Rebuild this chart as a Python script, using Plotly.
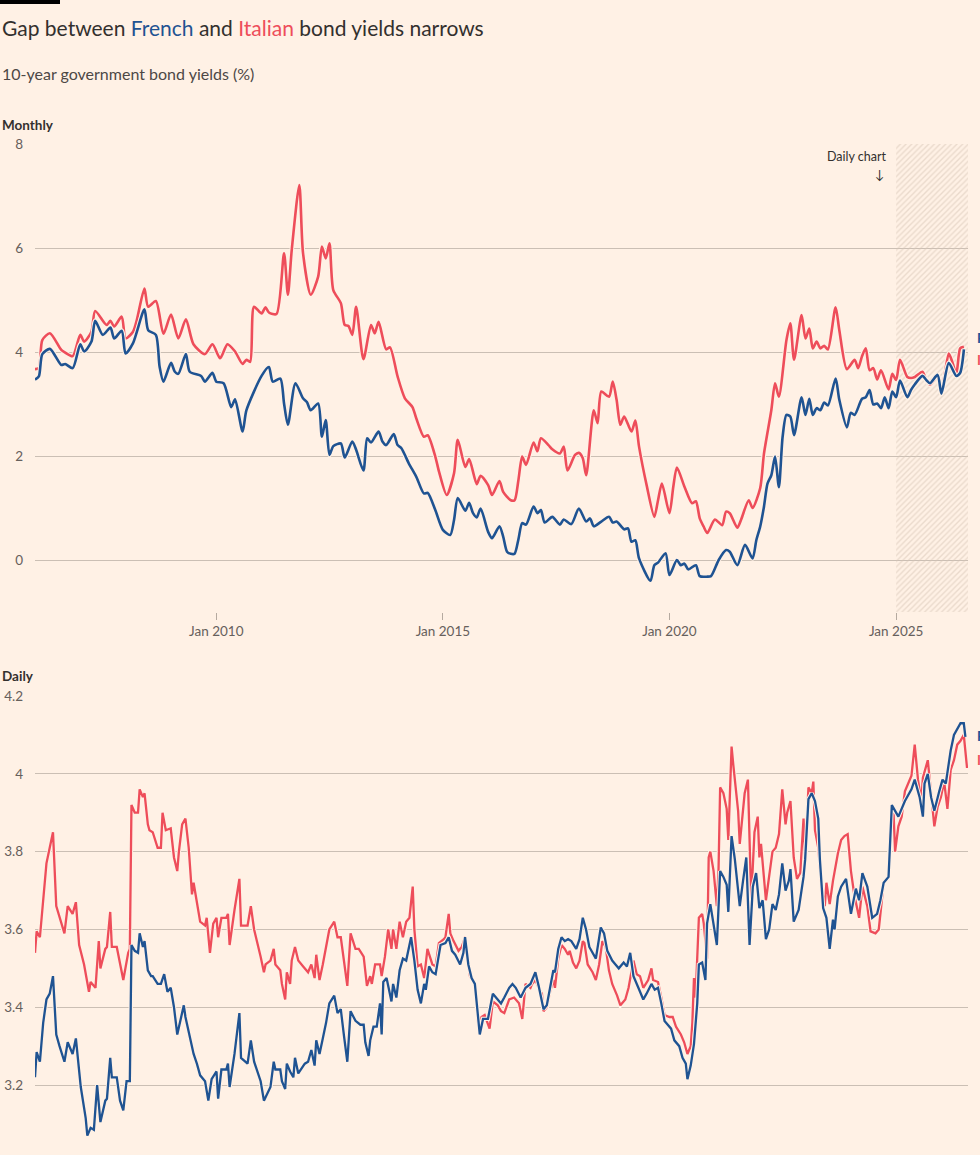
import pandas as pd
import plotly.graph_objects as go

# ---- data ----
# monthly 10-year yields (%)
it_month = [
    "2006-01", "2006-02", "2006-03", "2006-05", "2006-08", "2006-09", "2006-11",
    "2007-01", "2007-02", "2007-04", "2007-05", "2007-08", "2007-09", "2007-10", "2007-12",
    "2008-01", "2008-03", "2008-04", "2008-06", "2008-07", "2008-09", "2008-11",
    "2009-01", "2009-03", "2009-05", "2009-07", "2009-10", "2009-12",
    "2010-02", "2010-04", "2010-06", "2010-08", "2010-09", "2010-10", "2010-11",
    "2011-01", "2011-02", "2011-03", "2011-05", "2011-07", "2011-08", "2011-09", "2011-11", "2011-12",
    "2012-02", "2012-04", "2012-05", "2012-06", "2012-07", "2012-08", "2012-10", "2012-11", "2012-12",
    "2013-01", "2013-02", "2013-04", "2013-06", "2013-07", "2013-08", "2013-10", "2013-11",
    "2014-01", "2014-03", "2014-05", "2014-06", "2014-08", "2014-09", "2014-11", "2014-12",
    "2015-02", "2015-04", "2015-05", "2015-07", "2015-08", "2015-10", "2015-11",
    "2016-01", "2016-02", "2016-04", "2016-05", "2016-07", "2016-08", "2016-09", "2016-10", "2016-11",
    "2017-01", "2017-02", "2017-03", "2017-05", "2017-06", "2017-08", "2017-09", "2017-10", "2017-12",
    "2018-01", "2018-02", "2018-03", "2018-05", "2018-06", "2018-07", "2018-09", "2018-10", "2018-11", "2018-12",
    "2019-01", "2019-03", "2019-04", "2019-05", "2019-07", "2019-09", "2019-10", "2019-11",
    "2020-01", "2020-02", "2020-03", "2020-05", "2020-07", "2020-08", "2020-09", "2020-10", "2020-11",
    "2021-01", "2021-03", "2021-04", "2021-05", "2021-07", "2021-08", "2021-10", "2021-11",
    "2022-01", "2022-02", "2022-04", "2022-05", "2022-06", "2022-08", "2022-09", "2022-10", "2022-12",
    "2023-01", "2023-02", "2023-03", "2023-04", "2023-05", "2023-06", "2023-07", "2023-09", "2023-10", "2023-12",
    "2024-02", "2024-03", "2024-04", "2024-05", "2024-06", "2024-07", "2024-08", "2024-09", "2024-11", "2024-12",
    "2025-01", "2025-02", "2025-04", "2025-05", "2025-06", "2025-08", "2025-09", "2025-10", "2025-12",
    "2026-01", "2026-03", "2026-04", "2026-05", "2026-06", "2026-07",
]
it_monthly = [
    3.67, 3.69, 4.23, 4.36, 4.04, 3.99, 3.92,
    4.33, 4.20, 4.39, 4.79, 4.52, 4.60, 4.49, 4.68,
    4.26, 4.39, 4.62, 5.22, 4.87, 4.98, 4.35,
    4.72, 4.26, 4.63, 4.15, 3.96, 4.15,
    3.88, 4.15, 4.01, 3.77, 3.85, 3.81, 4.87,
    4.74, 4.86, 4.76, 4.73, 5.90, 5.10, 5.96, 7.21, 5.90,
    5.10, 5.45, 6.03, 5.80, 6.09, 5.19, 4.94, 4.52, 4.50,
    4.33, 4.87, 3.86, 4.52, 4.36, 4.58, 4.05, 4.09,
    3.53, 3.11, 2.94, 2.72, 2.37, 2.40, 1.99, 1.70,
    1.25, 1.67, 2.31, 1.79, 1.94, 1.46, 1.62,
    1.44, 1.25, 1.52, 1.31, 1.15, 1.15, 1.54, 1.99, 1.83,
    2.26, 2.09, 2.34, 2.21, 2.13, 2.05, 2.18, 1.72, 2.02,
    2.06, 1.96, 1.63, 2.88, 2.63, 3.24, 3.14, 3.43, 3.08, 2.60,
    2.76, 2.47, 2.68, 2.18, 1.44, 0.83, 1.15, 1.47,
    0.90, 1.41, 1.78, 1.41, 1.09, 1.13, 0.80, 0.65, 0.52,
    0.78, 0.67, 0.93, 0.90, 0.62, 0.78, 1.15, 1.00,
    1.38, 2.05, 2.88, 3.40, 3.14, 4.23, 4.55, 3.85, 4.71,
    4.26, 4.45, 4.07, 4.20, 4.07, 4.12, 4.05, 4.86, 4.42, 3.67,
    3.85, 3.69, 3.92, 4.07, 3.65, 3.69, 3.47, 3.65, 3.28, 3.58,
    3.46, 3.85, 3.52, 3.50, 3.52, 3.62, 3.46, 3.37, 3.54,
    3.26, 3.97, 3.79, 3.58, 4.07, 4.10,
]

fr_month = [
    "2006-01", "2006-02", "2006-03", "2006-05", "2006-08", "2006-09", "2006-11",
    "2007-01", "2007-02", "2007-04", "2007-05", "2007-07", "2007-09", "2007-10", "2007-12",
    "2008-01", "2008-03", "2008-06", "2008-07", "2008-09", "2008-10", "2008-11",
    "2009-01", "2009-02", "2009-03", "2009-05", "2009-06", "2009-09", "2009-10", "2009-12",
    "2010-01", "2010-03", "2010-05", "2010-06", "2010-08", "2010-09",
    "2011-01", "2011-03", "2011-04", "2011-06", "2011-07", "2011-08", "2011-10", "2011-12",
    "2012-01", "2012-02", "2012-04", "2012-05", "2012-06", "2012-07", "2012-08", "2012-10", "2012-11",
    "2013-01", "2013-02", "2013-04", "2013-05", "2013-06", "2013-08", "2013-09", "2013-10", "2013-12",
    "2014-01", "2014-02", "2014-04", "2014-06", "2014-08", "2014-09", "2014-11",
    "2015-01", "2015-03", "2015-04", "2015-05", "2015-07", "2015-08", "2015-09", "2015-10", "2015-11",
    "2016-01", "2016-02", "2016-04", "2016-05", "2016-06", "2016-07", "2016-08", "2016-09", "2016-10", "2016-11",
    "2017-01", "2017-02", "2017-03", "2017-04", "2017-06", "2017-08", "2017-09", "2017-11",
    "2018-01", "2018-03", "2018-04", "2018-05", "2018-07", "2018-09", "2018-10", "2018-11",
    "2019-01", "2019-02", "2019-03", "2019-04", "2019-05", "2019-08", "2019-09", "2019-10", "2019-12",
    "2020-01", "2020-03", "2020-04", "2020-05", "2020-06", "2020-08", "2020-09", "2020-11", "2020-12",
    "2021-02", "2021-04", "2021-05", "2021-07", "2021-09", "2021-11", "2021-12",
    "2022-01", "2022-02", "2022-03", "2022-04", "2022-05", "2022-06", "2022-07", "2022-08", "2022-09", "2022-10", "2022-12",
    "2023-01", "2023-02", "2023-03", "2023-04", "2023-05", "2023-06", "2023-07", "2023-09", "2023-10", "2023-12",
    "2024-01", "2024-02", "2024-04", "2024-05", "2024-06", "2024-07", "2024-08", "2024-09", "2024-10", "2024-11", "2024-12",
    "2025-01", "2025-02", "2025-04", "2025-05", "2025-06", "2025-08", "2025-09", "2025-10", "2025-12",
    "2026-01", "2026-03", "2026-05", "2026-06", "2026-07",
]
fr_monthly = [
    3.47, 3.53, 3.96, 4.06, 3.75, 3.77, 3.69,
    4.15, 4.01, 4.20, 4.60, 4.33, 4.47, 4.26, 4.41,
    3.97, 4.17, 4.82, 4.42, 4.33, 3.72, 3.43,
    3.79, 3.62, 3.58, 3.96, 3.62, 3.54, 3.43, 3.60,
    3.43, 3.40, 2.94, 3.09, 2.47, 2.88,
    3.54, 3.71, 3.43, 3.49, 3.01, 2.60, 3.40, 3.11,
    3.04, 2.88, 3.01, 2.37, 2.69, 2.02, 2.19, 2.24, 1.97,
    2.28, 2.12, 1.72, 2.34, 2.26, 2.47, 2.28, 2.21, 2.42,
    2.21, 2.15, 1.86, 1.60, 1.28, 1.29, 0.96,
    0.58, 0.48, 0.77, 1.19, 0.95, 1.10, 0.90, 0.82, 0.99,
    0.54, 0.42, 0.65, 0.45, 0.16, 0.12, 0.12, 0.40, 0.71, 0.68,
    1.03, 0.90, 0.96, 0.72, 0.83, 0.68, 0.78, 0.69,
    0.99, 0.74, 0.80, 0.65, 0.74, 0.83, 0.72, 0.74,
    0.59, 0.61, 0.35, 0.38, 0.03, -0.40, -0.10, -0.05, 0.13,
    -0.29, 0.00, -0.10, -0.07, -0.18, -0.10, -0.31, -0.32, -0.31,
    0.00, 0.19, 0.16, -0.10, 0.29, 0.03, 0.38,
    0.64, 1.03, 1.47, 1.63, 1.99, 1.40, 2.37, 2.79, 2.76, 2.40, 3.13,
    2.79, 3.10, 2.79, 2.92, 2.88, 3.03, 2.97, 3.49, 3.08, 2.55,
    2.83, 2.79, 3.10, 3.13, 3.27, 2.99, 3.01, 2.92, 3.13, 2.92, 3.24,
    3.13, 3.45, 3.13, 3.27, 3.38, 3.54, 3.46, 3.40, 3.56,
    3.20, 3.79, 3.54, 3.60, 4.05,
]

# daily yields, dated in days since 1 Jan 2025
daily_start = "2025-01-01"
it_day = [
    0, 1, 3, 5, 6, 7, 9, 11, 13, 15, 18, 20, 23, 25, 27, 30, 33, 34, 37, 39, 40, 43, 44, 46, 47, 50,
    53, 54, 57, 58, 59, 61, 63, 64, 66, 67, 69, 70, 72, 75, 77, 78, 80, 83, 85, 87, 88, 90, 92, 94,
    96, 97, 99, 101, 104, 105, 107, 109, 111, 112, 114, 117, 118, 119, 122, 125, 126, 130, 132, 134,
    138, 140, 141, 144, 146, 147, 150, 151, 153, 154, 156, 157, 159, 161, 164, 167, 169, 171, 172,
    174, 176, 178, 180, 183, 185, 187, 189, 191, 193, 196, 198, 201, 203, 205, 206, 208, 211, 212,
    214, 216, 218, 219, 221, 223, 225, 227, 229, 231, 232, 234, 236, 238, 240, 243, 245, 247, 250,
    251, 253, 254, 256, 259, 261, 263, 265, 266, 269, 271, 273, 275, 278, 280, 283, 285, 287, 290,
    293, 296, 298, 300, 303, 304, 306, 308, 310, 311, 313, 315, 317, 318, 320, 322, 324, 326, 327,
    329, 331, 333, 335, 336, 338, 341, 343, 345, 347, 349, 351, 353, 356, 358, 361, 363, 366, 368,
    370, 372, 375, 377, 378, 381, 383, 385, 388, 390, 392, 395, 397, 399, 401, 402, 403, 404, 406,
    408, 409, 411, 412, 413, 415, 417, 418, 419, 421, 423, 424, 426, 427, 430, 431, 434, 436, 438,
    440, 442, 443, 444, 447, 449, 451, 453, 455, 457, 459, 460, 462, 464, 466, 468, 470, 471, 473,
    475, 476, 477, 479, 481, 483, 484, 486, 488, 489, 491, 493, 495, 497, 499, 501, 504, 506, 509,
    511, 514, 516, 519, 522, 523, 525, 526, 528, 530, 532, 534, 536, 538, 540, 542, 543, 546, 548,
    550, 552, 554, 556, 558, 560, 562, 564, 566, 568, 570,
]
it_daily = [
    3.54, 3.595, 3.58, 3.68, 3.71, 3.77, 3.81, 3.85, 3.66, 3.63, 3.59, 3.66, 3.64, 3.67, 3.56, 3.51,
    3.44, 3.465, 3.45, 3.57, 3.50, 3.55, 3.555, 3.645, 3.555, 3.555,
    3.49, 3.47, 3.54, 3.55, 3.92, 3.90, 3.90, 3.96, 3.94, 3.95, 3.87, 3.855, 3.85, 3.81, 3.81, 3.90,
    3.855, 3.86, 3.785, 3.75, 3.80, 3.87, 3.885, 3.81,
    3.69, 3.72, 3.67, 3.62, 3.61, 3.63, 3.54, 3.615, 3.63, 3.58, 3.63, 3.63, 3.64, 3.56, 3.65, 3.73,
    3.61, 3.61, 3.66, 3.60,
    3.53, 3.49, 3.51, 3.52, 3.55, 3.51, 3.495, 3.46, 3.42, 3.49, 3.46, 3.52, 3.555, 3.52, 3.505,
    3.49, 3.51, 3.475, 3.535,
    3.47, 3.51, 3.56, 3.60, 3.62, 3.58, 3.58, 3.51, 3.455, 3.59, 3.55, 3.55, 3.53, 3.455, 3.48,
    3.46, 3.51, 3.51, 3.48,
    3.53, 3.60, 3.55, 3.60, 3.55, 3.62, 3.58, 3.62, 3.63, 3.71, 3.60, 3.505, 3.51, 3.475, 3.55,
    3.51, 3.505, 3.565, 3.575,
    3.58, 3.64, 3.59, 3.57, 3.545, 3.555, 3.58, 3.51, 3.48, 3.46, 3.36, 3.375, 3.38, 3.345, 3.415,
    3.405, 3.39, 3.385, 3.42,
    3.425, 3.41, 3.37, 3.46, 3.45, 3.46, 3.47, 3.45, 3.435, 3.39, 3.40, 3.44, 3.47, 3.45, 3.525,
    3.56, 3.55, 3.535, 3.545,
    3.515, 3.50, 3.52, 3.57, 3.565, 3.51, 3.49, 3.47, 3.51, 3.57, 3.555, 3.495, 3.46, 3.43, 3.405,
    3.42, 3.45, 3.52, 3.485,
    3.48, 3.45, 3.47, 3.50, 3.47, 3.465, 3.425, 3.38, 3.375, 3.375, 3.35, 3.33, 3.31, 3.28, 3.30,
    3.36, 3.475, 3.425, 3.63,
    3.64, 3.615, 3.525, 3.785, 3.80, 3.75, 3.66, 3.75, 3.965, 3.95, 3.91, 3.83, 4.07, 4.025, 3.905,
    3.82, 3.95, 3.985, 3.675,
    3.85, 3.89, 3.785, 3.82, 3.675, 3.745, 3.80, 3.81, 3.845, 3.96, 3.87, 3.90, 3.93, 3.785, 3.73,
    3.745, 3.885, 3.785, 3.965,
    3.95, 3.98, 3.855, 3.81, 3.71, 3.66, 3.72, 3.665, 3.725, 3.75, 3.795, 3.83, 3.84, 3.845, 3.75,
    3.69, 3.63, 3.71, 3.66,
    3.595, 3.59, 3.60, 3.72, 3.735, 3.855, 3.905, 3.80, 3.865, 3.89, 3.955, 3.975, 3.995, 4.075,
    3.985, 3.93, 3.99, 4.035, 3.95,
    3.865, 3.915, 3.94, 3.98, 3.91, 4.01, 4.035, 4.075, 4.085, 4.10, 4.015,
]

fr_day = [
    0, 1, 3, 5, 7, 9, 11, 13, 15, 18, 20, 23, 25, 28, 31, 32, 34, 36, 38, 40, 43, 44, 46, 47, 50,
    52, 54, 56, 58, 59, 61, 63, 64, 66, 67, 69, 71, 72, 75, 77, 79, 81, 83, 85, 87, 88, 91, 92, 95,
    97, 99, 101, 104, 106, 108, 111, 112, 114, 117, 118, 119, 122, 125, 126, 130, 132, 134, 138,
    140, 141, 144, 146, 147, 150, 151, 153, 154, 156, 158, 159, 161, 165, 167, 169, 171, 172, 174,
    176, 178, 180, 183, 185, 187, 189, 191, 193, 196, 199, 201, 202, 204, 205, 207, 209, 211, 212,
    213, 215, 218, 219, 221, 223, 225, 227, 229, 230, 232, 234, 236, 238, 239, 241, 243, 245, 248,
    251, 253, 255, 257, 260, 262, 263, 265, 267, 269, 272, 274, 277, 280, 283, 285, 287, 290, 292,
    294, 297, 300, 303, 306, 308, 311, 313, 317, 318, 320, 322, 324, 326, 328, 331, 333, 335, 337,
    339, 343, 346, 348, 350, 353, 355, 357, 360, 362, 364, 366, 369, 372, 374, 377, 379, 381, 383,
    385, 389, 391, 394, 396, 398, 399, 401, 403, 405, 406, 408, 410, 411, 413, 417, 419, 421, 423,
    424, 426, 428, 431, 433, 435, 437, 439, 441, 443, 445, 447, 449, 451, 453, 455, 457, 459, 461,
    462, 464, 467, 470, 471, 473, 475, 477, 479, 480, 482, 484, 486, 488, 489, 491, 493, 496, 499,
    502, 504, 506, 509, 512, 515, 517, 519, 522, 524, 528, 532, 536, 538, 541, 543, 544, 546, 548,
    550, 553, 555, 557, 560, 562, 564, 566, 568, 569,
]
fr_daily = [
    3.22, 3.285, 3.26, 3.36, 3.42, 3.435, 3.48, 3.33, 3.30, 3.26, 3.31, 3.28, 3.32, 3.195, 3.115,
    3.07, 3.09, 3.085, 3.20, 3.105, 3.16, 3.165, 3.27, 3.22, 3.22,
    3.16, 3.135, 3.21, 3.21, 3.56, 3.545, 3.54, 3.59, 3.555, 3.57, 3.495, 3.48, 3.48, 3.46, 3.46,
    3.485, 3.44, 3.45, 3.40, 3.33, 3.35, 3.405, 3.375, 3.315,
    3.28, 3.255, 3.225, 3.21, 3.16, 3.215, 3.235, 3.165, 3.24, 3.24, 3.255, 3.195, 3.28, 3.385,
    3.27, 3.255, 3.315, 3.26, 3.21,
    3.16, 3.17, 3.195, 3.26, 3.24, 3.24, 3.21, 3.19, 3.255, 3.235, 3.22, 3.27, 3.23, 3.255, 3.26,
    3.29, 3.25, 3.315, 3.28,
    3.32, 3.36, 3.41, 3.43, 3.385, 3.395, 3.325, 3.26, 3.39, 3.365, 3.355, 3.355, 3.31, 3.275,
    3.315, 3.35, 3.35, 3.41, 3.33,
    3.465, 3.475, 3.415, 3.46, 3.425, 3.495, 3.525, 3.52, 3.555, 3.58, 3.52, 3.445, 3.41, 3.46,
    3.445, 3.505, 3.49, 3.485, 3.56,
    3.565, 3.58, 3.545, 3.535, 3.51, 3.54, 3.58, 3.51, 3.475, 3.46, 3.33, 3.37, 3.37, 3.435, 3.42,
    3.41, 3.425, 3.45, 3.46,
    3.45, 3.425, 3.45, 3.46, 3.49, 3.455, 3.395, 3.405, 3.495, 3.49, 3.55, 3.58, 3.57, 3.575,
    3.57, 3.55, 3.575, 3.63, 3.60,
    3.555, 3.525, 3.605, 3.59, 3.545, 3.52, 3.51, 3.50, 3.515, 3.505, 3.54, 3.48, 3.45, 3.42,
    3.435, 3.46, 3.445, 3.45, 3.41,
    3.365, 3.345, 3.315, 3.30, 3.27, 3.255, 3.215, 3.25, 3.305, 3.41, 3.51, 3.515, 3.47, 3.615,
    3.665, 3.56, 3.75, 3.735, 3.715,
    3.645, 3.84, 3.78, 3.66, 3.725, 3.785, 3.56, 3.71, 3.745, 3.655, 3.675, 3.575, 3.60, 3.665,
    3.65, 3.69, 3.77, 3.70, 3.725,
    3.755, 3.62, 3.65, 3.735, 3.78, 3.935, 3.95, 3.93, 3.885, 3.78, 3.655, 3.63, 3.55, 3.625,
    3.60, 3.685, 3.71, 3.73, 3.64,
    3.705, 3.675, 3.745, 3.71, 3.63, 3.64, 3.675, 3.72, 3.735, 3.92, 3.89, 3.93, 3.96, 3.985,
    3.94, 3.89, 3.975, 4.00, 3.94,
    3.905, 3.955, 3.985, 3.975, 4.06, 4.10, 4.115, 4.13, 4.13, 4.095,
]

monthly_ticks = ["2010-01-01", "2015-01-01", "2020-01-01", "2025-01-01"]
monthly_ticktext = ["Jan 2010", "Jan 2015", "Jan 2020", "Jan 2025"]
monthly_yticks = [0, 2, 4, 6, 8]
daily_yticks = [3.2, 3.4, 3.6, 3.8, 4.0, 4.2]

# ---- styling ----
BG = "#fff1e5"
BLUE = "#1f5392"
RED = "#ee4d5a"
INK = "#33302e"
MUTED = "#66605c"
GRID = "#cbbfb4"
FONT = "Lato, 'Open Sans', sans-serif"

W, H = 980, 1155
ML, MR = 35, 12
PW = W - ML - MR


def px_x(px):
    return (px - ML) / PW


def px_y(py):
    return 1 - py / H


monthly_range = ["2006-01-01", "2026-08-03"]
monthly_yrange = [-1, 8]
daily_range = ["2025-01-01", "2026-07-25T14:00"]
daily_yrange = [3.0203, 4.2]

t0 = pd.Timestamp(daily_start)
it_dates = t0 + pd.to_timedelta(it_day, unit="D")
fr_dates = t0 + pd.to_timedelta(fr_day, unit="D")

fig = go.Figure()

# hatched window on the monthly chart covering the daily period
fig.add_trace(go.Scatter(
    x=[daily_start, monthly_range[1], monthly_range[1], daily_start, daily_start],
    y=[monthly_yrange[0], monthly_yrange[0], monthly_yrange[1], monthly_yrange[1], monthly_yrange[0]],
    fill="toself", mode="lines", line=dict(width=0),
    fillcolor="rgba(0,0,0,0)",
    fillpattern=dict(shape="/", fgcolor="#d6c4b4", bgcolor="rgba(0,0,0,0)", size=4, solidity=0.35),
    hoverinfo="skip", showlegend=False, xaxis="x", yaxis="y",
))


def add_line(x, y, color, xa, ya, shape, width):
    fig.add_trace(go.Scatter(
        x=x, y=y, mode="lines", line=dict(color=BG, width=width + 2, shape=shape, smoothing=0.7),
        hoverinfo="skip", showlegend=False, xaxis=xa, yaxis=ya,
    ))
    fig.add_trace(go.Scatter(
        x=x, y=y, mode="lines", line=dict(color=color, width=width, shape=shape, smoothing=0.7),
        showlegend=False, xaxis=xa, yaxis=ya,
    ))


add_line(it_month, it_monthly, RED, "x", "y", "spline", 2.6)
add_line(fr_month, fr_monthly, BLUE, "x", "y", "spline", 2.6)
add_line(it_dates, it_daily, RED, "x2", "y2", "linear", 2.3)
add_line(fr_dates, fr_daily, BLUE, "x2", "y2", "linear", 2.3)

axis_font = dict(family=FONT, size=13.5, color=MUTED)

fig.update_layout(
    width=W, height=H,
    margin=dict(l=ML, r=MR, t=0, b=0, pad=0),
    paper_bgcolor=BG, plot_bgcolor=BG,
    font=dict(family=FONT, color=INK),
    showlegend=False,
    xaxis=dict(
        domain=[0, 1], anchor="y", type="date", range=monthly_range,
        tickvals=monthly_ticks, ticktext=monthly_ticktext,
        ticks="outside", ticklen=7, tickcolor="#b5aaa0", tickwidth=1,
        showgrid=False, showline=False, zeroline=False, tickfont=axis_font,
        automargin=False,
    ),
    yaxis=dict(
        domain=[px_y(612), px_y(144)], anchor="x", range=monthly_yrange,
        tickvals=monthly_yticks, showgrid=True, gridcolor=GRID, gridwidth=1,
        zeroline=False, showline=False, ticks="", tickfont=axis_font,
        ticklabelstandoff=11, automargin=False,
    ),
    xaxis2=dict(
        domain=[0, 1], anchor="y2", type="date", range=daily_range,
        showticklabels=False, showgrid=False, showline=False, zeroline=False, ticks="",
        automargin=False,
    ),
    yaxis2=dict(
        domain=[0, px_y(696)], anchor="x2", range=daily_yrange,
        tickvals=daily_yticks, showgrid=True, gridcolor=GRID, gridwidth=1,
        zeroline=False, showline=False, ticks="", tickfont=axis_font,
        ticklabelstandoff=11, automargin=False,
    ),
)

# FT-style black bar
fig.add_shape(type="rect", xref="paper", yref="paper",
              x0=px_x(0), x1=px_x(60), y0=px_y(4), y1=px_y(0),
              fillcolor="#000000", line=dict(width=0), layer="above")


def note(text, x, y, size, color=INK, xanchor="left", bold=False):
    if bold:
        text = "<b>" + text + "</b>"
    fig.add_annotation(text=text, xref="paper", yref="paper", x=px_x(x), y=px_y(y),
                       xanchor=xanchor, yanchor="middle", showarrow=False,
                       font=dict(family=FONT, size=size, color=color))


note("Gap between <span style='color:%s'>French</span> and "
     "<span style='color:%s'>Italian</span> bond yields narrows" % (BLUE, RED), 0, 27, 21)
note("10-year government bond yields (%)", 0, 73, 16, color="#4d4845")
note("Monthly", 0, 125, 13.5, bold=True)
note("Daily", 0, 676, 13.5, bold=True)
note("Daily chart", 889, 157, 12.5, xanchor="right")
note("↓", 886, 175, 12.5, xanchor="right")

note("France", 975, 338, 13.5, color=BLUE, bold=True)
note("Italy", 975, 360, 13.5, color=RED, bold=True)
note("France", 975, 736, 13.5, color=BLUE, bold=True)
note("Italy", 975, 760, 13.5, color=RED, bold=True)

page_fix = (
    "document.documentElement.style.margin='0';"
    "document.documentElement.style.padding='0';"
    "document.documentElement.style.overflow='hidden';"
    "document.body.style.margin='0';"
    "document.body.style.padding='0';"
    "document.body.style.overflow='hidden';"
)
fig.write_html("out.html", config={"displayModeBar": False}, post_script=page_fix)
